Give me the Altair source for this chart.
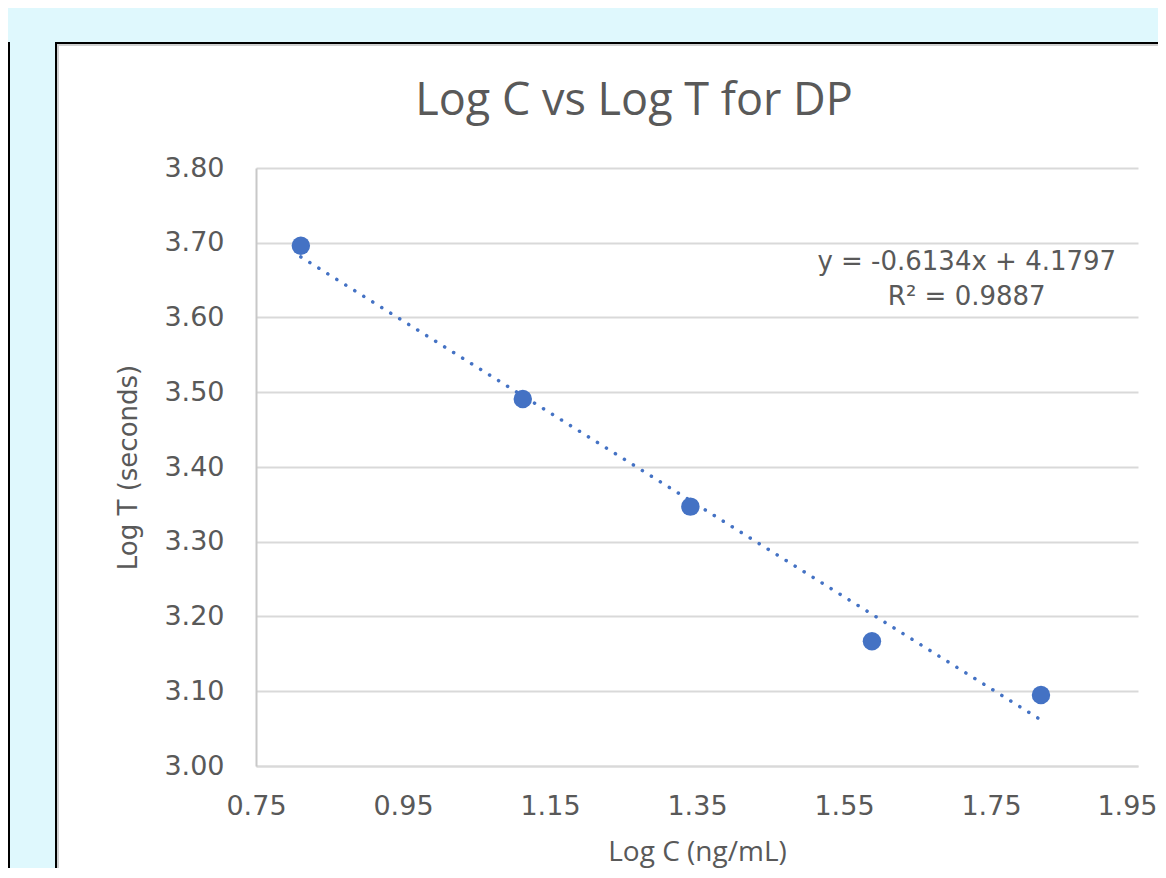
import altair as alt
import pandas as pd

# ---- data ----
log_c = [0.811, 1.113, 1.341, 1.588, 1.818]
log_t = [3.696, 3.491, 3.347, 3.167, 3.095]
x_ticks = [0.75, 0.95, 1.15, 1.35, 1.55, 1.75, 1.95]
y_ticks = [3.00, 3.10, 3.20, 3.30, 3.40, 3.50, 3.60, 3.70, 3.80]
eq_text = "y = -0.6134x + 4.1797"
r2_text = "R² = 0.9887"
chart_title = "Log C vs Log T for DP"
x_title = "Log C (ng/mL)"
y_title = "Log T (seconds)"

df = pd.DataFrame({"logC": log_c, "logT": log_t})
one = pd.DataFrame({"k": [0]})

W, H = 882, 598
BLUE = "#4472C4"
GRAY = "#595959"
CYAN = "#DFF8FD"
AXFONT = "DejaVu Sans"

xs = alt.Scale(domain=[0.75, 1.95], nice=False, zero=False)
ys = alt.Scale(domain=[3.0, 3.8], nice=False, zero=False)

# ---- decorations (page frame) ----
deco = alt.Chart(one)
cyan_top = deco.mark_rect(color=CYAN).encode(
    x=alt.value(-260), x2=alt.value(940), y=alt.value(-170), y2=alt.value(-125))
cyan_left = deco.mark_rect(color=CYAN).encode(
    x=alt.value(-246), x2=alt.value(-200), y=alt.value(-125), y2=alt.value(720))
box_left = deco.mark_rule(color="#000000", strokeWidth=2).encode(
    x=alt.value(-200), y=alt.value(-126), y2=alt.value(720))
box_top = deco.mark_rule(color="#000000", strokeWidth=2).encode(
    x=alt.value(-201), x2=alt.value(940), y=alt.value(-125))
box_shadow = deco.mark_rule(color="#D0D0D0", strokeWidth=2).encode(
    x=alt.value(-198), y=alt.value(-124), y2=alt.value(720))
box_shadow_top = deco.mark_rule(color="#D0D0D0", strokeWidth=2).encode(
    x=alt.value(-199), x2=alt.value(940), y=alt.value(-123))
left_panel = deco.mark_rule(color="#000000", strokeWidth=2).encode(
    x=alt.value(-247), y=alt.value(-126), y2=alt.value(720))

base = alt.Chart(df)

last_x = "datum.value >= 1.9"

points = base.mark_circle(size=340, opacity=1, color=BLUE).encode(
    x=alt.X("logC:Q", scale=xs,
            axis=alt.Axis(values=x_ticks, format=".2f", title=x_title,
                          labelFont=AXFONT, labelFontSize=27, labelColor=GRAY,
                          labelPadding=27,
                          labelAlign={"condition": {"test": last_x, "value": "right"},
                                      "value": "center"},
                          labelOffset={"condition": {"test": last_x, "value": 19},
                                       "value": 0},
                          titleFont="Open Sans", titleFontSize=28,
                          titleColor=GRAY, titleFontWeight="normal",
                          titleX=W / 2, titleY=94, titleBaseline="alphabetic",
                          domainColor="#D9D9D9", domainWidth=2, ticks=False,
                          grid=False, labelFlush=False)),
    y=alt.Y("logT:Q", scale=ys,
            axis=alt.Axis(values=y_ticks, format=".2f", title=y_title,
                          labelFont=AXFONT, labelFontSize=27, labelColor=GRAY,
                          labelPadding=32, titleFont=AXFONT, titleFontSize=26,
                          titleColor=GRAY, titleFontWeight="normal",
                          titleX=-128, titleY=H / 2, titleAngle=-90,
                          titleAlign="center", titleBaseline="middle",
                          domainColor="#C8C8C8", domainWidth=2, ticks=False,
                          gridColor="#D9D9D9", gridWidth=2)),
)

trend = base.transform_regression("logC", "logT").mark_line(
    color=BLUE, strokeWidth=3.5, strokeDash=[0.1, 10.5], strokeCap="round"
).encode(x=alt.X("logC:Q", scale=xs), y=alt.Y("logT:Q", scale=ys))

eq = alt.Chart(one).mark_text(font=AXFONT, fontSize=26, color=GRAY,
                              align="center", baseline="middle").encode(
    x=alt.datum(1.717), y=alt.datum(3.674), text=alt.value(eq_text))
r2 = alt.Chart(one).mark_text(font=AXFONT, fontSize=26, color=GRAY,
                              align="center", baseline="middle").encode(
    x=alt.datum(1.717), y=alt.datum(3.628), text=alt.value(r2_text))

chart = alt.layer(
    cyan_top, cyan_left, left_panel, box_shadow, box_shadow_top, box_left, box_top,
    trend, points, eq, r2
).properties(
    width=W, height=H,
    title=alt.Title(chart_title, font="Open Sans", fontSize=45, color=GRAY,
                    fontWeight="normal", anchor="middle", frame="group",
                    baseline="bottom", dx=-63, offset=-171),
    autosize=alt.AutoSizeParams(type="none"),
    padding={"left": 248, "top": 160, "right": 20, "bottom": 102},
    background="white",
).configure_view(stroke=None)

chart.save("out.html", embed_options={"renderer": "svg", "actions": False})
